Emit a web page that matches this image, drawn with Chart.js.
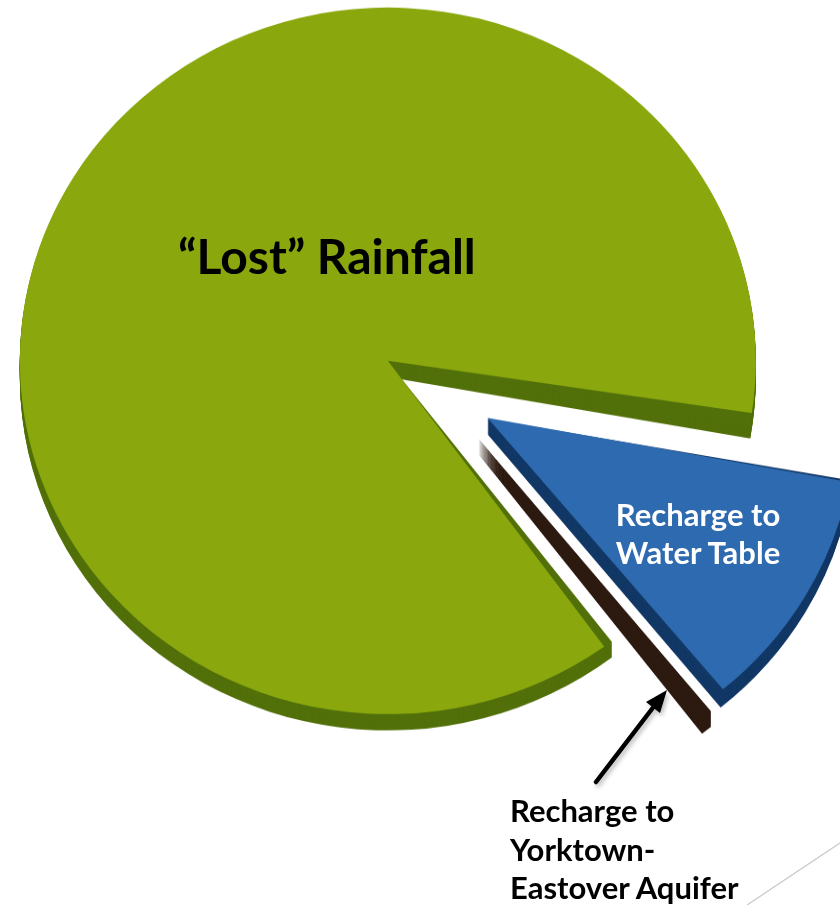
<!DOCTYPE html>
<html>
<head>
<meta charset="utf-8">
<script src="https://cdn.jsdelivr.net/npm/chart.js@4/dist/chart.umd.min.js"></script>
<style>
  html, body { margin: 0; padding: 0; background: #ffffff; overflow: hidden; }
  #wrap { position: relative; width: 840px; height: 905px; overflow: hidden; }
  #c { position: absolute; left: 0; top: 0; transform-origin: 0 0; transform: scaleY(0.96); }
  .lbl { position: absolute; font-family: Lato, "Noto Sans", sans-serif; font-weight: 700; white-space: nowrap; }
  #lost { left: 178px; top: 227px; font-size: 48px; line-height: 58px; color: #000; }
  #wt { left: 597px; top: 495px; width: 202px; text-align: center; font-size: 31px; line-height: 38px; color: #fff; }
  #ye { left: 510px; top: 791px; font-size: 31px; line-height: 38.5px; color: #000; }
  svg { position: absolute; left: 0; top: 0; }
</style>
</head>
<body>
<div id="wrap">
  <canvas id="c" width="840" height="943"></canvas>
  <div class="lbl" id="lost">“Lost” Rainfall</div>
  <div class="lbl" id="wt">Recharge to<br>Water Table</div>
  <div class="lbl" id="ye">Recharge to<br>Yorktown-<br>Eastover Aquifer</div>
  <svg width="840" height="905">
    <defs>
      <filter id="sh" x="-20%" y="-20%" width="140%" height="140%">
        <feDropShadow dx="2" dy="3" stdDeviation="2" flood-color="#000" flood-opacity="0.25"/>
      </filter>
    </defs>
    <g filter="url(#sh)">
      <line x1="596" y1="782" x2="655" y2="705" stroke="#000" stroke-width="4.5" stroke-linecap="round"/>
      <polygon points="667,690 646,702 660,713" fill="#000"/>
    </g>
    <line x1="747" y1="905" x2="840" y2="843" stroke="#c8c8c8" stroke-width="1.2"/>
  </svg>
</div>
<script>
// ---- data (percent of rainfall) ----
const categories = ['Recharge to Water Table', 'Recharge to Yorktown-Eastover Aquifer', '“Lost” Rainfall'];
const shares = [11.3, 0.5, 88.2];

// ---- styling ----
const topColors  = ['#2d6aaf', '#3d2417', '#8aa80e'];
const sideColors = ['#123866', '#2c190f', '#52700a'];
const explode    = [220, 244, 244];   // Chart.js arc offset option
const RADIUS = 368;
const DEPTH = 17;

function arcShift(el) {
  const off = (el.options.offset || 0) / 4;
  const half = (el.startAngle + el.endAngle) / 2;
  const circ = el.endAngle - el.startAngle;
  const fix = 1 - Math.sin(Math.min(Math.PI, circ || 0));
  return { dx: Math.cos(half) * off, dy: Math.sin(half) * off, rOff: off * fix };
}

const pie3d = {
  id: 'pie3d',
  afterDatasetUpdate(chart, args) {
    // keep every exploded slice at the same visual radius
    args.meta.data.forEach(el => {
      const s = arcShift(el);
      el.outerRadius = RADIUS - s.rOff;
    });
  },
  beforeDatasetsDraw(chart) {
    const ctx = chart.ctx;
    const meta = chart.getDatasetMeta(0);
    meta.data.forEach((el, i) => {
      const s = arcShift(el);
      const r = el.outerRadius + s.rOff;
      ctx.save();
      ctx.fillStyle = sideColors[i];
      for (let d = DEPTH; d >= 1; d--) {
        ctx.beginPath();
        const cx = el.x + s.dx, cy = el.y + s.dy + d;
        ctx.moveTo(cx, cy);
        ctx.arc(cx, cy, r, el.startAngle, el.endAngle);
        ctx.closePath();
        ctx.fill();
      }
      ctx.restore();
    });
  }
};

new Chart(document.getElementById('c'), {
  type: 'pie',
  data: {
    labels: categories,
    datasets: [{
      data: shares,
      backgroundColor: topColors,
      borderWidth: 0,
      offset: explode,
      hoverOffset: 0
    }]
  },
  options: {
    responsive: false,
    animation: false,
    events: [],
    rotation: 100,
    radius: RADIUS,
    layout: { padding: { left: 40, right: 0, top: 0, bottom: 128 } },
    plugins: { legend: { display: false }, tooltip: { enabled: false } }
  },
  plugins: [pie3d]
});
</script>
</body>
</html>
